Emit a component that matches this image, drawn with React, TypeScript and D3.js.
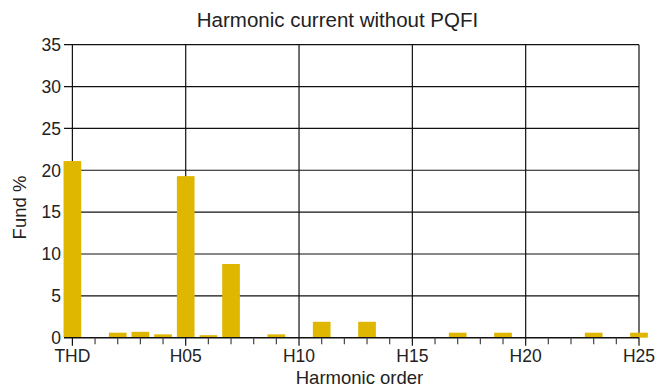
import React from "react";
import * as d3 from "d3";

const categories: string[] = ["THD","H01","H02","H03","H04","H05","H06","H07","H08","H09","H10","H11","H12","H13","H14","H15","H16","H17","H18","H19","H20","H21","H22","H23","H24","H25"];
const values: number[] = [21.1,0,0.6,0.7,0.4,19.3,0.3,8.8,0,0.4,0,1.9,0,1.9,0,0,0,0.6,0,0.6,0,0,0,0.6,0,0.6];
const yTicks: number[] = [0,5,10,15,20,25,30,35];
const xLabelIdx: number[] = [0,5,10,15,20,25];
const xLabels: string[] = ["THD","H05","H10","H15","H20","H25"];

const W = 657, H = 387;
const FONT = "'Liberation Sans', Arial, Helvetica, sans-serif";

export default function App() {
  const x = d3.scaleLinear().domain([-0.37, 25]).range([64, 639]);
  const y = d3.scaleLinear().domain([0, 35]).range([337.7, 44.7]);
  const step = x(1) - x(0);
  const bw = step * 0.78;
  const idx = d3.range(categories.length);
  return (
    <svg width={W} height={H} style={{ position: "absolute", left: 0, top: 0, background: "#fff" }} fontFamily={FONT}>
      {yTicks.filter(t => t > 0).map(t => (
        <line key={"h" + t} x1={x(-0.37)} x2={x(25)} y1={y(t)} y2={y(t)} stroke="#111" strokeWidth={1.2} />
      ))}
      {xLabelIdx.map(i => (
        <line key={"v" + i} x1={x(i)} x2={x(i)} y1={y(35)} y2={y(0)} stroke="#111" strokeWidth={1.2} />
      ))}
      {idx.map(i => values[i] > 0 ? (
        <rect key={"b" + i} x={x(i) - bw / 2} width={bw} y={y(values[i])} height={y(0) - y(values[i])} fill="#dfb600" />
      ) : null)}
      <line x1={x(-0.37)} x2={x(25)} y1={y(0)} y2={y(0)} stroke="#111" strokeWidth={1.4} />
      {idx.map(i => (
        <line key={"t" + i} x1={x(i)} x2={x(i)} y1={y(0)} y2={y(0) + (i % 5 === 0 ? 8 : 6.5)} stroke={i % 5 === 0 ? "#111" : "#444"} strokeWidth={1.2} />
      ))}
      {yTicks.map(t => (
        <text key={"yl" + t} x={61} y={y(t)} dy="0.36em" textAnchor="end" fontSize={17.5} fill="#222">{t}</text>
      ))}
      {xLabelIdx.map((i, k) => (
        <text key={"xl" + i} x={x(i)} y={362.3} textAnchor="middle" fontSize={17.5} fill="#222">{xLabels[k]}</text>
      ))}
      <text x={337.5} y={26.7} textAnchor="middle" fontSize={20.5} fill="#222">Harmonic current without PQFI</text>
      <text x={359.5} y={383.5} textAnchor="middle" fontSize={18.5} fill="#222">Harmonic order</text>
      <text transform={`translate(26,207.5) rotate(-90)`} textAnchor="middle" fontSize={18.5} fill="#222">Fund %</text>
    </svg>
  );
}
